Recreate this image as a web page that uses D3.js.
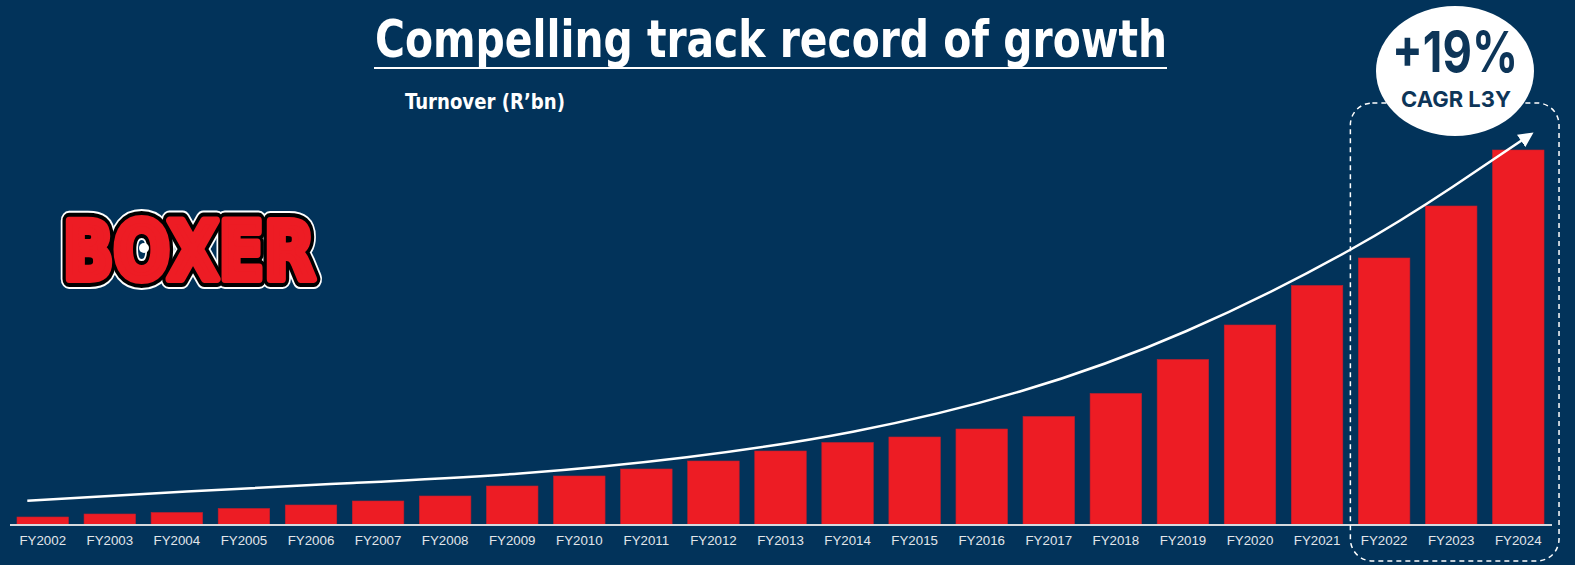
<!DOCTYPE html>
<html>
<head>
<meta charset="utf-8">
<script src="https://cdn.jsdelivr.net/npm/d3@7/dist/d3.min.js"></script>
<style>
  html, body { margin: 0; padding: 0; background: #02335a; }
  svg { display: block; }
</style>
</head>
<body>
<svg id="chart" width="1575" height="565"></svg>
<script>
// ---- Data (Turnover, R'bn) ----
const categories = ["FY2002","FY2003","FY2004","FY2005","FY2006","FY2007","FY2008","FY2009","FY2010","FY2011","FY2012","FY2013","FY2014","FY2015","FY2016","FY2017","FY2018","FY2019","FY2020","FY2021","FY2022","FY2023","FY2024"];
const turnover = [0.75,1.05,1.2,1.6,1.95,2.35,2.85,3.85,4.85,5.55,6.35,7.35,8.2,8.75,9.55,10.8,13.1,16.5,19.95,23.9,26.65,31.85,37.45];
// Trend arrow (x = category index, y = value)
const trendIndex = [-0.23, 2.146, 4.625, 7.115, 9.6, 12.079, 14.569, 17.054, 19.488, 21.024, 22.172];
const trendValue = [2.38, 3.30, 4.15, 5.10, 6.72, 9.28, 13.30, 19.35, 27.45, 33.78, 38.95];
const highlighted = ["FY2022","FY2023","FY2024"];
const titleText = "Compelling track record of growth";
const subtitleText = "Turnover (R\u2019bn)";
const badgeValue = "+19%";
const badgeLabel = "CAGR L3Y";

const NAVY = "#02335a", RED = "#ed1c24";
const svg = d3.select("#chart");
svg.append("rect").attr("width",1575).attr("height",565).attr("fill",NAVY);

const baseY = 524.5;
const x = d3.scaleBand().domain(categories).range([10, 1551]).paddingInner(0.232).paddingOuter(0.104);
const y = d3.scaleLinear().domain([0, 42.45]).range([baseY, 100]);
const bw = x.bandwidth();
const xi = d3.scaleLinear().domain([0, categories.length-1])
  .range([x(categories[0]) + bw/2, x(categories[categories.length-1]) + bw/2]);

// Bars
svg.append("g").selectAll("rect").data(categories).join("rect")
  .attr("x", d => x(d)).attr("width", bw)
  .attr("y", (d,i) => y(turnover[i])).attr("height", (d,i) => baseY - y(turnover[i]))
  .attr("fill", RED).attr("stroke", "#c41e2c").attr("stroke-width", 0.6);

// Axis line
svg.append("line").attr("x1",10).attr("x2",1552).attr("y1",baseY+0.5).attr("y2",baseY+0.5)
  .attr("stroke","#d6d9de").attr("stroke-width",2);

// X axis labels via d3 axis
const axisG = svg.append("g").attr("transform",`translate(0,${baseY})`)
  .call(d3.axisBottom(x).tickSize(0).tickPadding(11));
axisG.select(".domain").remove();
axisG.selectAll("text").attr("fill","#e3e6ea").attr("font-family","'Liberation Sans', Arial, sans-serif")
  .attr("font-size",13.3);

// Trend curve with arrow
const defs = svg.append("defs");
defs.append("marker").attr("id","arrow").attr("viewBox","0 0 10 10").attr("refX",7).attr("refY",5)
  .attr("markerWidth",6).attr("markerHeight",6).attr("markerUnits","strokeWidth").attr("orient","auto")
  .append("path").attr("d","M0,0 L10,5 L0,10 Z").attr("fill","#ffffff");
const line = d3.line().x(d => xi(d[0])).y(d => y(d[1])).curve(d3.curveNatural);
svg.append("path").datum(trendIndex.map((v,i) => [v, trendValue[i]]))
  .attr("d", line).attr("fill","none").attr("stroke","#ffffff").attr("stroke-width",2.5)
  .attr("marker-end","url(#arrow)");

// Dashed highlight box around last three bars
const hx0 = x(highlighted[0]) - 8, hx1 = x(highlighted[highlighted.length-1]) + bw + 15;
svg.append("rect").attr("x",hx0).attr("y",103).attr("width",hx1-hx0).attr("height",458)
  .attr("rx",22).attr("ry",22).attr("fill","none").attr("stroke","#ffffff")
  .attr("stroke-width",1.5).attr("stroke-dasharray","5,4");

// Badge
svg.append("ellipse").attr("cx",1455).attr("cy",71).attr("rx",79).attr("ry",65).attr("fill","#ffffff");
svg.append("text").attr("x",1455).attr("y",72).attr("text-anchor","middle")
  .attr("font-family","Inter, 'DejaVu Sans', sans-serif").attr("font-weight",700).attr("font-size",56)
  .attr("fill","#0d3558").attr("textLength",126).attr("lengthAdjust","spacingAndGlyphs").text(badgeValue);
svg.append("text").attr("x",1456).attr("y",107).attr("text-anchor","middle")
  .attr("font-family","Inter, 'DejaVu Sans', sans-serif").attr("font-weight",700).attr("font-size",22)
  .attr("fill","#0d3558").attr("textLength",110).attr("lengthAdjust","spacingAndGlyphs").text(badgeLabel);

// Title
svg.append("text").attr("x",375).attr("y",57)
  .attr("font-family","'DejaVu Sans Condensed', 'DejaVu Sans', sans-serif").attr("font-weight",700)
  .attr("font-size",52).attr("fill","#ffffff").attr("textLength",792).attr("lengthAdjust","spacingAndGlyphs")
  .text(titleText);
svg.append("line").attr("x1",374).attr("x2",1167).attr("y1",68).attr("y2",68)
  .attr("stroke","#ffffff").attr("stroke-width",2);

// Subtitle
svg.append("text").attr("x",405).attr("y",109)
  .attr("font-family","'DejaVu Sans Condensed', 'DejaVu Sans', sans-serif").attr("font-weight",700)
  .attr("font-size",20.5).attr("fill","#ffffff").attr("textLength",160).attr("lengthAdjust","spacingAndGlyphs")
  .text(subtitleText);

// Logo (approximation of BOXER wordmark)
const logo = svg.append("g");
const logoText = (sel) => sel.attr("x",189).attr("y",279).attr("text-anchor","middle")
  .attr("font-family","'DejaVu Sans', sans-serif").attr("font-weight",700).attr("font-size",80)
  .attr("textLength",252).attr("lengthAdjust","spacingAndGlyphs").attr("stroke-linejoin","round").text("BOXER");
logo.append("text").call(logoText).attr("fill","#ffffff").attr("stroke","#ffffff").attr("stroke-width",20);
logo.append("text").call(logoText).attr("fill","#000000").attr("stroke","#000000").attr("stroke-width",16);
logo.append("text").call(logoText).attr("fill",RED).attr("stroke",RED).attr("stroke-width",8);
logo.append("circle").attr("cx",144).attr("cy",248).attr("r",5).attr("fill","#ffffff");
</script>
</body>
</html>
